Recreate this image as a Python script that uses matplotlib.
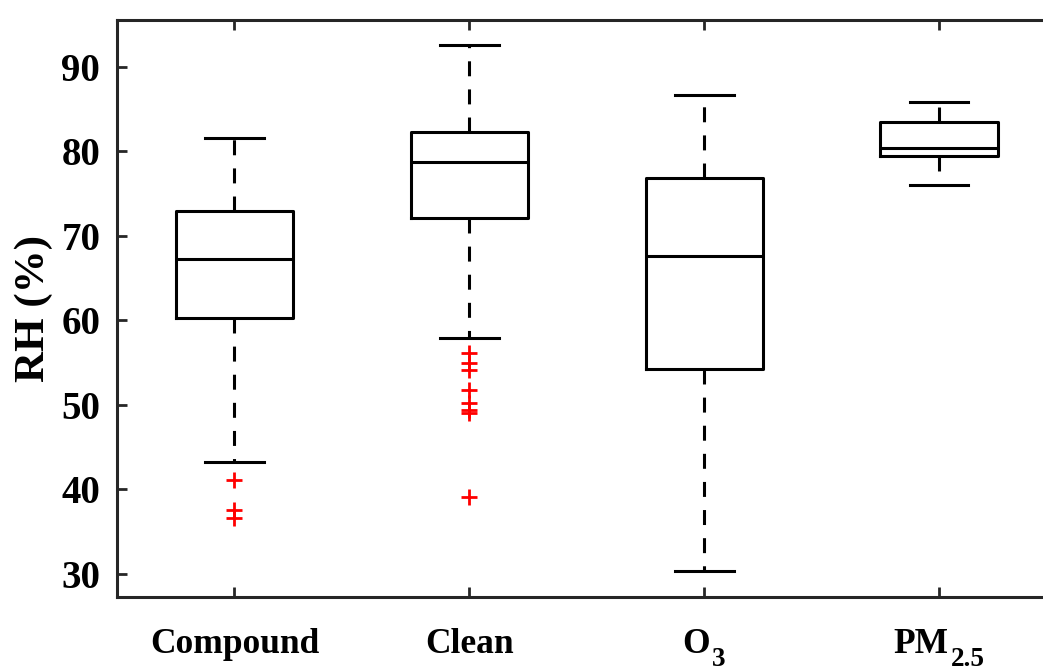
import numpy as np
import matplotlib
matplotlib.use('Agg')
import matplotlib.pyplot as plt
import matplotlib.transforms as mtransforms

plt.rcParams['font.family'] = ['Liberation Serif', 'DejaVu Serif']
plt.rcParams['font.weight'] = 'bold'

# 各类型的 RH 统计量
groups = ['Compound', 'Clean', 'O', 'PM']
subs = ['', '', '3', '2.5']
q1 = [60.3, 72.1, 54.2, 79.4]
med = [67.2, 78.7, 67.6, 80.4]
q3 = [72.9, 82.3, 76.8, 83.4]
whislo = [43.2, 57.9, 30.4, 76.0]
whishi = [81.5, 92.6, 86.6, 85.8]
fliers = [
    [41.1, 37.6, 36.6],
    [56.1, 55.0, 54.1, 51.7, 50.2, 49.4, 49.0, 39.1],
    [],
    [],
]

stats = []
for i in range(len(groups)):
    stats.append(dict(med=med[i], q1=q1[i], q3=q3[i],
                      whislo=whislo[i], whishi=whishi[i],
                      fliers=fliers[i], label=groups[i] + subs[i]))

fig = plt.figure(figsize=(10.43, 6.71), dpi=100)
ax = fig.add_axes([0.1122, 0.1107, 0.9008, 0.8594])

lw = 2.2
ax.bxp(stats, positions=[1, 2, 3, 4], widths=0.5, capwidths=0.25,
       boxprops=dict(color='k', linewidth=lw),
       medianprops=dict(color='k', linewidth=lw),
       whiskerprops=dict(color='k', linewidth=lw, linestyle=(0, (4.9, 4.3))),
       capprops=dict(color='k', linewidth=lw),
       flierprops=dict(marker='+', markeredgecolor='red', markersize=11,
                       markeredgewidth=2.0, linestyle='none'))

ax.set_xlim(0.5, 4.5)
ax.set_ylim(27.3, 95.5)
ax.set_yticks(np.arange(30, 91, 10))
ax.set_xticks([1, 2, 3, 4])
ax.set_xticklabels([])
ax.tick_params(axis='y', labelsize=28, pad=12)
ax.tick_params(direction='in', length=7, width=2.0, color='#262626',
               top=True, right=True)
for sp in ax.spines.values():
    sp.set_linewidth(2.2)
    sp.set_color('#262626')
ax.set_ylabel('RH (%)', fontsize=31, fontweight='bold', labelpad=6)

# x 轴标签：下标放低一些，整体居中
trans = mtransforms.blended_transform_factory(ax.transData, ax.transAxes)
y0 = -56 / 576.7
renderer = fig.canvas.get_renderer()
for i, (g, s) in enumerate(zip(groups, subs)):
    x = i + 1
    t1 = ax.text(x, y0, g, transform=trans, ha='left', va='baseline',
                 fontsize=25.5, fontweight='bold', clip_on=False)
    w1 = t1.get_window_extent(renderer).width
    w2 = 0
    if s:
        t2 = ax.text(x, y0, s, transform=trans, ha='left', va='baseline',
                     fontsize=19.5, fontweight='bold', clip_on=False)
        w2 = t2.get_window_extent(renderer).width + 2
    total = w1 + w2
    t1.set_transform(mtransforms.offset_copy(trans, fig, x=-total / 2,
                                             y=0, units='dots'))
    if s:
        t2.set_transform(mtransforms.offset_copy(trans, fig,
                                                 x=-total / 2 + w1 + 2,
                                                 y=-13, units='dots'))

fig.savefig('out.png', dpi=100)
